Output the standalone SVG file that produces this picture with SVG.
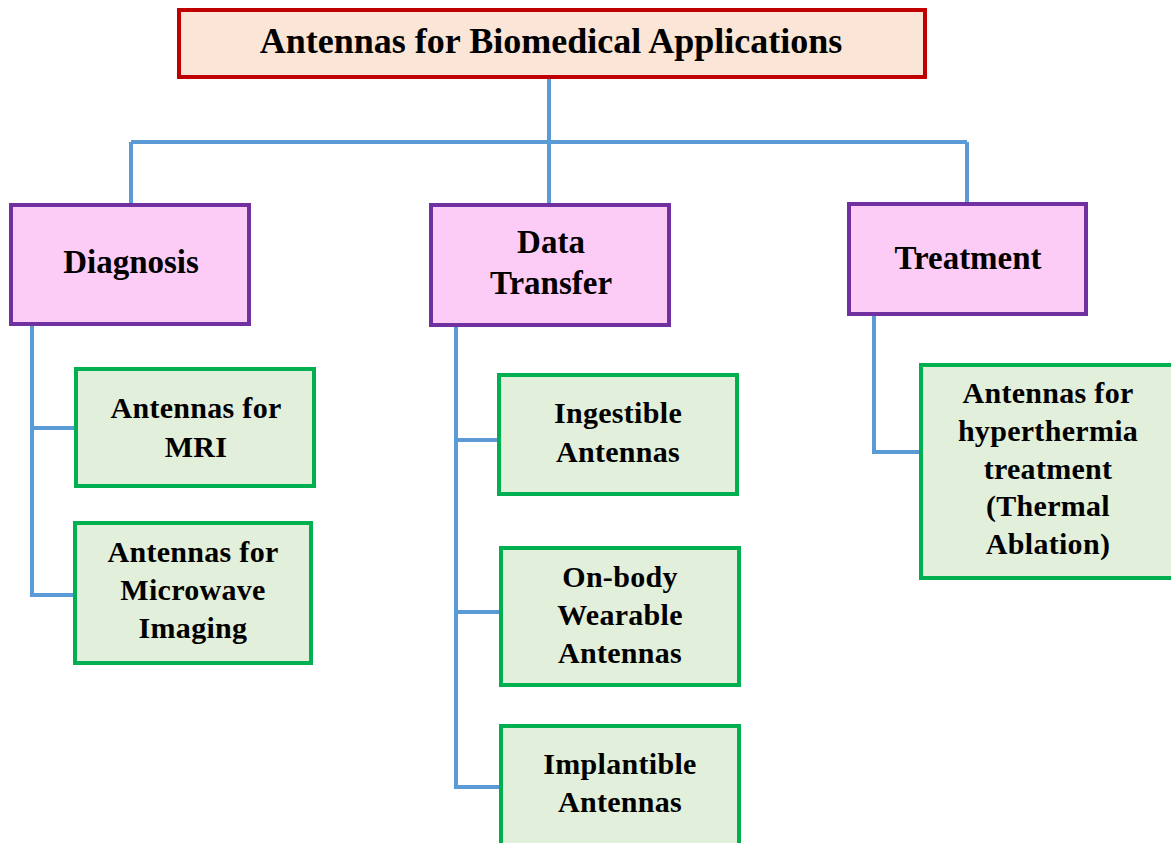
<svg xmlns="http://www.w3.org/2000/svg" width="1171" height="843" viewBox="0 0 1171 843">
  <style>
    .root { fill: #FBE5D6; stroke: #C00000; stroke-width: 4; }
    .cat { fill: #FDCCF6; stroke: #7030A0; stroke-width: 4; }
    .leaf { fill: #E2EFDA; stroke: #00B050; stroke-width: 4; }
    .link { fill: none; stroke: #5B9BD5; stroke-width: 4; }
    text { font-family: "Liberation Serif", "Times New Roman", serif; font-weight: bold; fill: #000; text-anchor: middle; }
    .t1 { font-size: 36px; }
    .t2 { font-size: 33px; }
    .t3 { font-size: 30px; letter-spacing: 0.3px; }
  </style>

  <!-- connectors -->
  <g id="connectors">
    <path class="link" d="M549 78 V142 M131 142 H967 M131 142 V203 M549 142 V203 M967 142 V202"/>
    <path class="link" d="M32 326 V595 H73 M32 428 H74"/>
    <path class="link" d="M456 327 V787 H499 M456 440 H497 M456 612 H499"/>
    <path class="link" d="M874 316 V452 H919"/>
  </g>

  <!-- root -->
  <g id="root">
    <rect class="root" x="179" y="10" width="746" height="67"/>
    <text class="t1" x="551" y="53">Antennas for Biomedical Applications</text>
  </g>

  <!-- categories -->
  <g id="diagnosis">
    <rect class="cat" x="11" y="205" width="238" height="119"/>
    <text class="t2" x="131" y="273">Diagnosis</text>
  </g>
  <g id="data-transfer">
    <rect class="cat" x="431" y="205" width="238" height="120"/>
    <text class="t2" x="551" y="253">Data</text>
    <text class="t2" x="551" y="294">Transfer</text>
  </g>
  <g id="treatment">
    <rect class="cat" x="849" y="204" width="237" height="110"/>
    <text class="t2" x="968" y="269">Treatment</text>
  </g>

  <!-- diagnosis leaves -->
  <g id="mri">
    <rect class="leaf" x="76" y="369" width="238" height="117"/>
    <text class="t3" x="196" y="418">Antennas for</text>
    <text class="t3" x="196" y="457">MRI</text>
  </g>
  <g id="microwave">
    <rect class="leaf" x="75" y="523" width="236" height="140"/>
    <text class="t3" x="193" y="562">Antennas for</text>
    <text class="t3" x="193" y="600">Microwave</text>
    <text class="t3" x="193" y="638">Imaging</text>
  </g>

  <!-- data transfer leaves -->
  <g id="ingestible">
    <rect class="leaf" x="499" y="375" width="238" height="119"/>
    <text class="t3" x="618" y="423">Ingestible</text>
    <text class="t3" x="618" y="462">Antennas</text>
  </g>
  <g id="on-body">
    <rect class="leaf" x="501" y="548" width="238" height="137"/>
    <text class="t3" x="620" y="587">On-body</text>
    <text class="t3" x="620" y="625">Wearable</text>
    <text class="t3" x="620" y="663">Antennas</text>
  </g>
  <g id="implantible">
    <rect class="leaf" x="501" y="726" width="238" height="130"/>
    <text class="t3" x="620" y="774">Implantible</text>
    <text class="t3" x="620" y="812">Antennas</text>
  </g>

  <!-- treatment leaf -->
  <g id="hyperthermia">
    <rect class="leaf" x="921" y="365" width="260" height="213"/>
    <text class="t3" x="1048" y="403">Antennas for</text>
    <text class="t3" x="1048" y="441">hyperthermia</text>
    <text class="t3" x="1048" y="479">treatment</text>
    <text class="t3" x="1048" y="516">(Thermal</text>
    <text class="t3" x="1048" y="554">Ablation)</text>
  </g>
</svg>
